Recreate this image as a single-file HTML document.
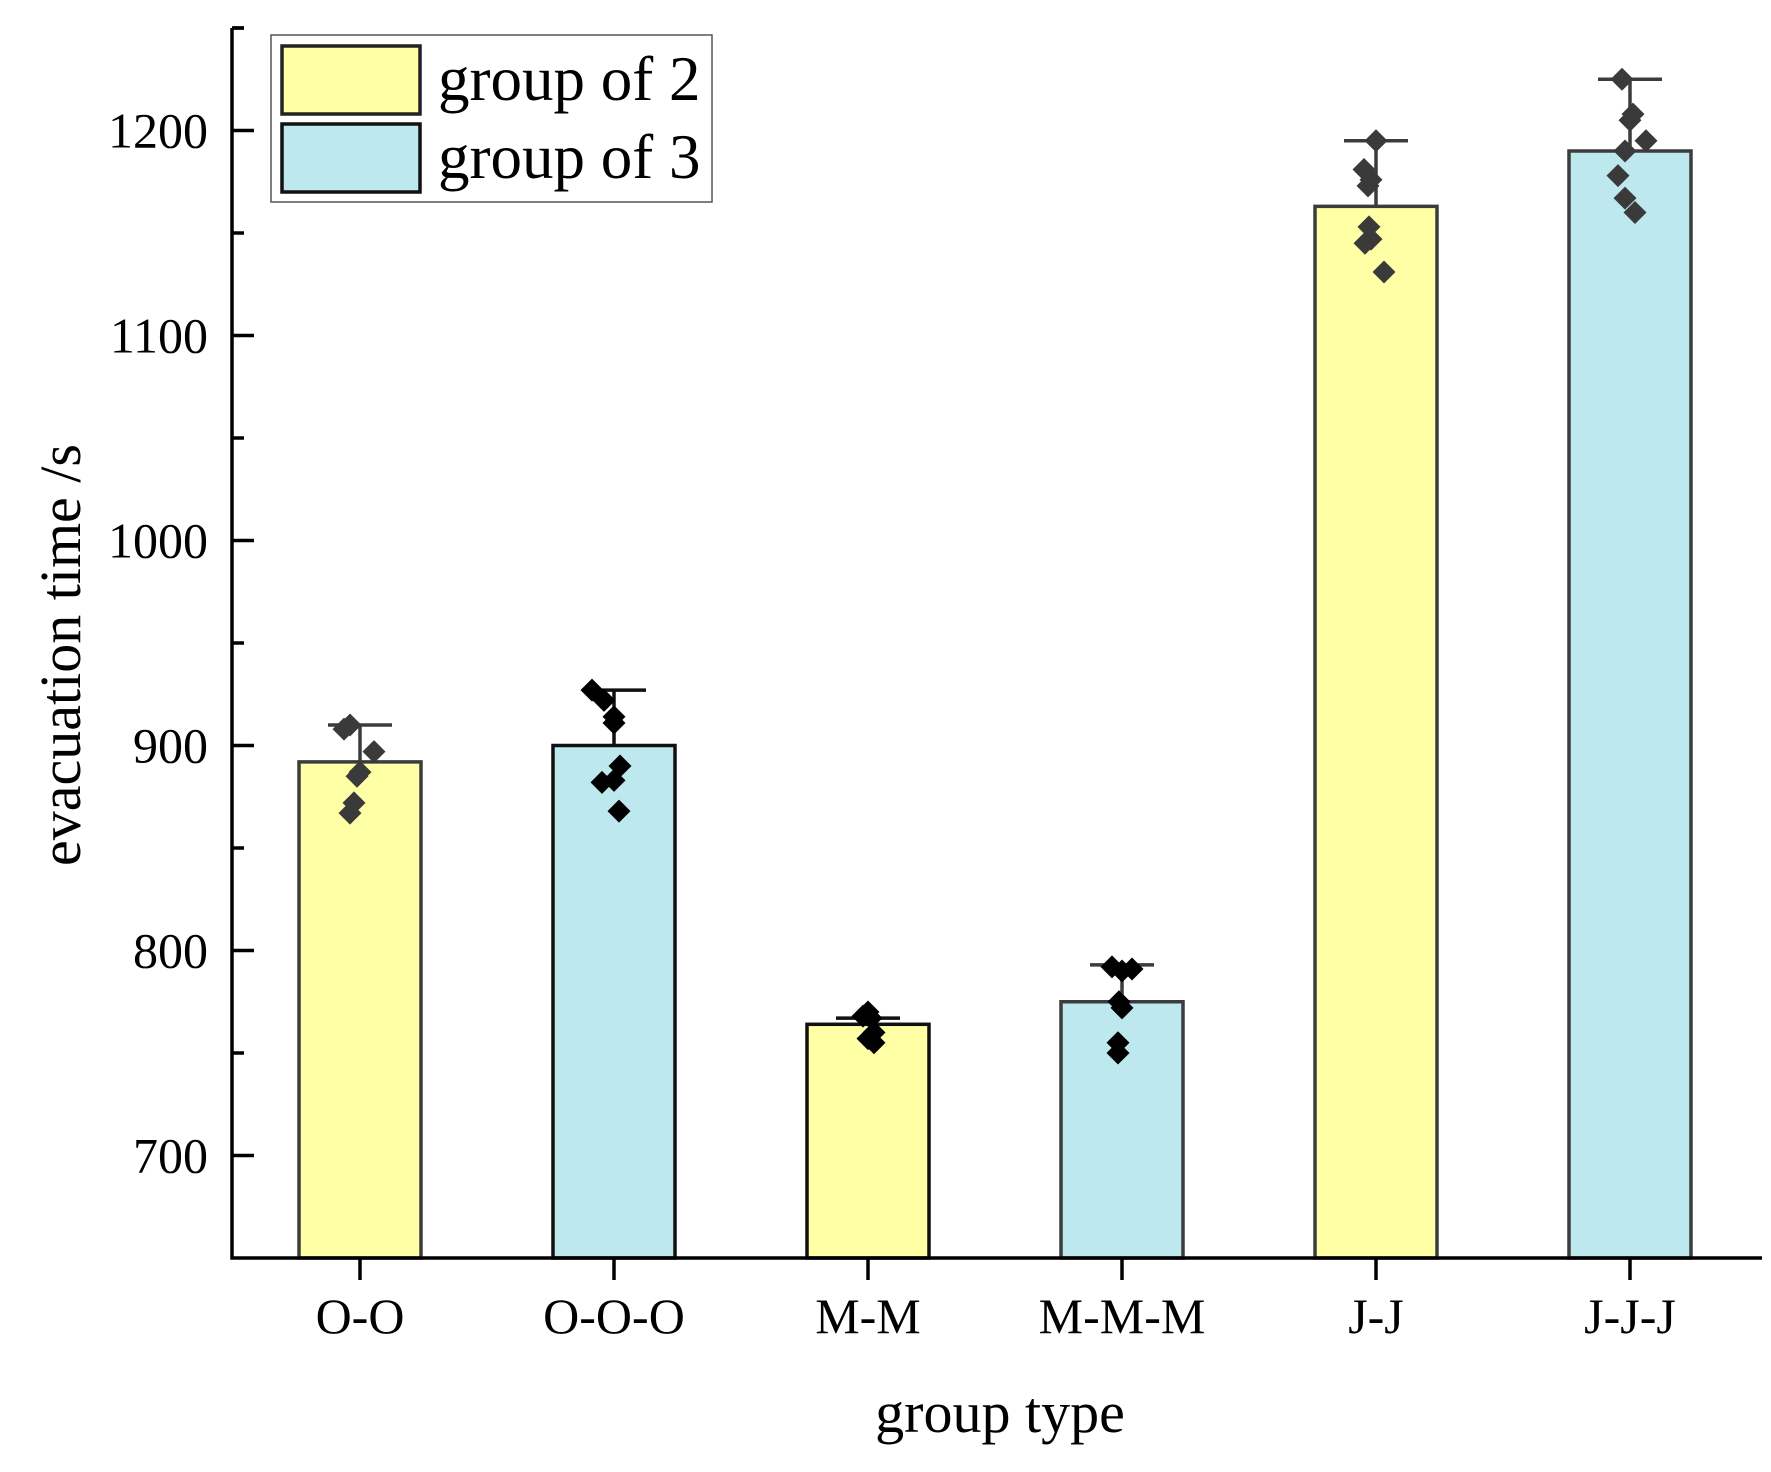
<!DOCTYPE html>
<html><head><meta charset="utf-8"><style>
html,body{margin:0;padding:0;background:#fff;}
svg{display:block;font-family:"Liberation Serif",serif;}
</style></head><body>
<svg id="chart" width="1771" height="1472" viewBox="0 0 1771 1472" xmlns="http://www.w3.org/2000/svg">
<rect x="0" y="0" width="1771" height="1472" fill="#fff"/>
<g id="bars"></g>
<g id="points"></g>
<g id="axes"></g>
<text x="1000" y="1432" font-size="58" text-anchor="middle">group type</text>
<text transform="translate(80,655) rotate(-90)" font-size="58" text-anchor="middle">evacuation time /s</text>
<g>
<rect x="271" y="35" width="441" height="167" fill="#fff" stroke="#555" stroke-width="1.5"/>
<rect x="282" y="46" width="138" height="68" fill="#ffffa5" stroke="#222" stroke-width="3.5"/>
<rect x="282" y="124" width="138" height="68" fill="#bde8ee" stroke="#111" stroke-width="3.5"/>
<text x="438" y="100" font-size="63">group of 2</text>
<text x="438" y="178" font-size="63">group of 3</text>
</g>
</svg>
<script>
const categories = ["O-O","O-O-O","M-M","M-M-M","J-J","J-J-J"];
const means = [892, 900, 764, 775, 1163, 1190];
const errTops = [910, 927, 767, 793, 1195, 1225];
const series = ["group of 2","group of 3","group of 2","group of 3","group of 2","group of 3"];
const yTicks = [700, 800, 900, 1000, 1100, 1200];
const pointVals = [
 [910, 908, 897, 887, 885, 872, 867],
 [927, 922, 914, 911, 890, 882, 883, 868],
 [770, 768, 767, 760, 755, 757],
 [792, 791, 790, 775, 772, 755, 750],
 [1195, 1181, 1176, 1173, 1153, 1147, 1145, 1131],
 [1225, 1208, 1205, 1195, 1190, 1178, 1167, 1160]
];
const pointJitter = [
 [-10, -16, 14, 0, -3, -6, -10],
 [-22, -10, 0, 0, 6, -12, 0, 5],
 [0, -5, 3, 6, 6, 0],
 [-10, 10, 0, -3, 0, -4, -4],
 [0, -12, -5, -8, -7, -5, -11, 8],
 [-8, 3, 0, 16, -5, -12, -5, 5]
];
const NS = "http://www.w3.org/2000/svg";
const X0 = 232, X1 = 1762, YB = 1258, YT = 28;
const vMin = 650, vMax = 1250;
function yS(v){ return YB - (v - vMin) / (vMax - vMin) * (YB - YT); }
function xS(i){ return 360 + i * 254; }
const BW = 122;
function mk(tag, attrs, parent){ const e = document.createElementNS(NS, tag); for (const k in attrs) e.setAttribute(k, attrs[k]); parent.appendChild(e); return e; }
const gb = document.getElementById('bars'), gp = document.getElementById('points'), ga = document.getElementById('axes');
categories.forEach((c, i) => {
  const cx = xS(i);
  const fill = series[i] === "group of 2" ? "#ffffa5" : "#bde8ee";
  const stroke = (i === 1 || i === 2) ? "#111" : "#3c3c3c";
  const r = mk('rect', {x: cx - BW/2, y: yS(means[i]), width: BW, height: YB - yS(means[i]), fill: fill, stroke: stroke, 'stroke-width': 3.5}, gb);
  
  
  const eb = mk('path', {d: `M${cx},${yS(means[i])}V${yS(errTops[i])}M${cx-32},${yS(errTops[i])}H${cx+32}`, stroke: stroke, 'stroke-width': 3.5, fill: 'none'}, gb);
  
  
  const pc = (i === 1 || i === 2 || i === 3) ? "#000" : "#3a3a3a";
  pointVals[i].forEach((v, j) => {
    const px = cx + pointJitter[i][j], py = yS(v), s = 11.5;
    const p = mk('path', {d: `M${px},${py-s}L${px+s},${py}L${px},${py+s}L${px-s},${py}Z`, fill: pc}, gp);
    
    
  });
  mk('line', {x1: cx, x2: cx, y1: YB, y2: YB + 22, stroke: '#000', 'stroke-width': 3.5}, ga);
  const t = mk('text', {x: cx, y: 1333, 'font-size': 50, 'text-anchor': 'middle'}, ga);
  t.textContent = c;
  
  
});
yTicks.forEach(v => {
  mk('line', {x1: X0, x2: X0 + 22, y1: yS(v), y2: yS(v), stroke: '#000', 'stroke-width': 3.5}, ga);
  const t = mk('text', {x: 208, y: yS(v) + 17, 'font-size': 50, 'text-anchor': 'end'}, ga);
  t.textContent = v;
  
  
  mk('line', {x1: X0, x2: X0 + 12, y1: yS(v + 50), y2: yS(v + 50), stroke: '#000', 'stroke-width': 3.5}, ga);
});
mk('path', {d: `M${X0},${YT}V${YB}H${X1}`, stroke: '#000', 'stroke-width': 3.5, fill: 'none'}, ga);
mk('line', {x1: X0, x2: X0 + 12, y1: YT, y2: YT, stroke: '#000', 'stroke-width': 3.5}, ga);
</script>
</body></html>
